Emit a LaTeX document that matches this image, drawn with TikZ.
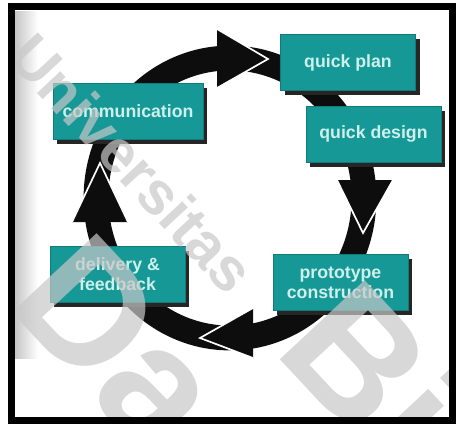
\documentclass[tikz,border=0pt]{standalone}
\usepackage{fontspec}
\usepackage{tikz}
\usetikzlibrary{shadows}

\newfontfamily\stagefont{Liberation Sans}
\definecolor{stageteal}{RGB}{22,152,150}
\definecolor{stagetext}{RGB}{205,240,235}
\definecolor{markgray}{RGB}{200,200,200}

\begin{document}
\begin{tikzpicture}[
            stage/.style = {rectangle, fill=stageteal, draw=stageteal!80!black, line width=0.4pt,
                text=stagetext, align=center, minimum width=3.375cm, minimum height=1.4cm,
                font=\stagefont\bfseries\fontsize{12.6}{14.5}\selectfont,
                drop shadow={shadow xshift=0.11cm, shadow yshift=-0.12cm, fill=black!85, opacity=1}}, % box with dark shadow
            ring/.style = {draw=black!95, line width=0.62cm}, % the cycle band
            bighead/.style = {fill=black!95, draw=white, line width=1.2pt, line join=miter}, % only the two slanted sides get stroked
            wmark/.style = {text=markgray, text opacity=0.7, rotate=-47, inner sep=0pt}
        ]
\useasboundingbox (0,0) rectangle (11.45,-10.65);

% shaded left edge
\shade[left color=gray!45, right color=white] (0.375,-0.275) rectangle (0.95,-8.95);

% the cycle and its heads
\draw[ring] (5.75,-4.95) ellipse [x radius=3.35cm, y radius=3.5cm];

\path[bighead] (5.425,-0.725) -- (6.7,-1.475) -- (5.425,-2.2);
\path[bighead] (8.425,-4.5) -- (9.075,-5.825) -- (9.825,-4.5);
\path[bighead] (6.325,-7.7) -- (5.0,-8.45) -- (6.325,-8.95);
\path[bighead] (3.2,-5.55) -- (2.5,-4.075) -- (1.8,-5.55);

\node[stage, minimum width=3.75cm] (comm) at (3.2,-2.775) {communication};
\node[stage] (plan) at (8.7,-1.5625) {quick plan};
\node[stage] (design) at (9.3375,-3.35) {quick design};
\node[stage] (proto) at (8.5125,-7.0625) {prototype\\construction};
\node[stage] (deliv) at (2.9375,-6.85) {delivery \&\\feedback};

% watermark
\begin{scope}
\clip (0.2875,-0.1625) rectangle (11.3125,-10.5125);
\node[wmark, font=\stagefont\bfseries\fontsize{43}{43}\selectfont] (univ) at (3.3,-4.075) {Universitas};
\node[wmark, font=\stagefont\bfseries\fontsize{120}{120}\selectfont] (da) at (3.0,-8.6) {Da};
\node[wmark, font=\stagefont\bfseries\fontsize{120}{120}\selectfont] (bi) at (9.375,-9.3) {Bi};
\end{scope}

\draw[line width=5pt] (0.2875,-0.1625) rectangle (11.3125,-10.5125);
\end{tikzpicture}
\end{document}
